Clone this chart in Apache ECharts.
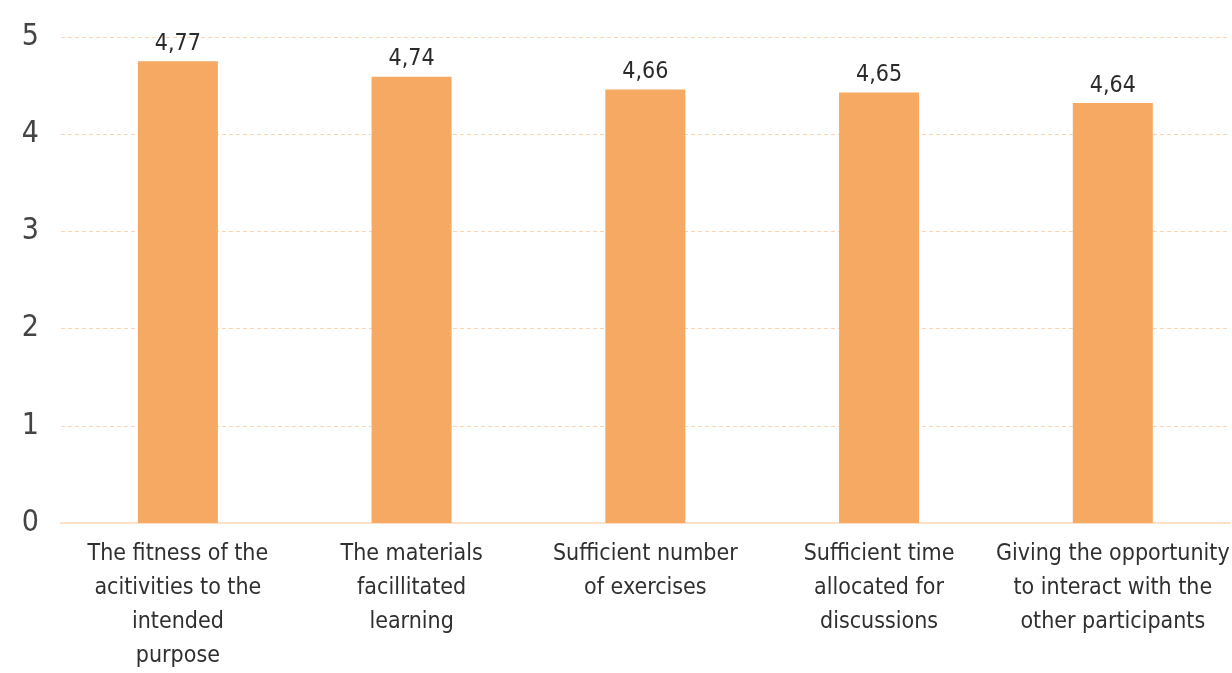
<!DOCTYPE html>
<html><head><meta charset="utf-8">
<script src="https://cdn.jsdelivr.net/npm/echarts@6/dist/echarts.min.js"></script>
<style>html,body{margin:0;padding:0;background:#fff}#c{width:1232px;height:673px}</style>
</head><body><div id="c"></div>
<script>
const categories = [
  "The fitness of the\nacitivities to the\nintended\npurpose",
  "The materials\nfacillitated\nlearning",
  "Sufficient number\nof exercises",
  "Sufficient time\nallocated for\ndiscussions",
  "Giving the opportunity\nto interact with the\nother participants"
];
const barValues = [4.75, 4.59, 4.46, 4.43, 4.32];
const valueLabels = ["4,77", "4,74", "4,66", "4,65", "4,64"];
const yTicks = [0, 1, 2, 3, 4, 5];

const FONT = '"Liberation Sans Narrow", "DejaVu Sans Condensed", "Roboto", sans-serif';
const chart = echarts.init(document.getElementById('c'));
chart.setOption({
  animation: false,
  grid: { left: 61, right: -4, top: 37, bottom: 145, containLabel: false },
  xAxis: {
    type: 'category',
    data: categories,
    axisLine: { show: true, lineStyle: { color: '#fde0c6', width: 2 } },
    axisTick: { show: false },
    axisLabel: { interval: 0, fontFamily: FONT, fontSize: 23, color: '#2f2f2f', lineHeight: 34, margin: 14 }
  },
  yAxis: {
    type: 'value', min: yTicks[0], max: yTicks[yTicks.length - 1], interval: 1,
    axisLine: { show: false }, axisTick: { show: false },
    axisLabel: { fontFamily: FONT, fontSize: 30, color: '#444', margin: 22, padding: [0, 0, 14, 0] },
    splitLine: { lineStyle: { color: '#fbd3b0', type: [4, 3], width: 1 } }
  },
  series: [{
    type: 'bar',
    data: barValues,
    barWidth: 80,
    itemStyle: { color: '#f5a962' },
    label: {
      show: true, position: 'top', distance: 6,
      fontFamily: FONT, fontSize: 23, color: '#2a2a2a',
      formatter: p => valueLabels[p.dataIndex]
    }
  }]
});
</script></body></html>
